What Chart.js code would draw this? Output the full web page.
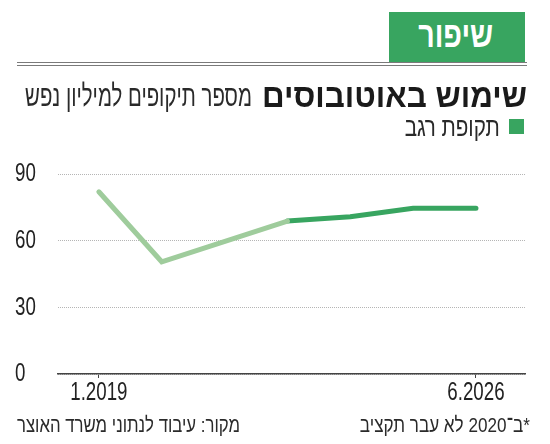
<!DOCTYPE html>
<html lang="he">
<head>
<meta charset="utf-8">
<script src="https://cdn.jsdelivr.net/npm/chart.js@4"></script>
<style>
    html, body { margin: 0; padding: 0; background: #fff; }
    #wrap { position: relative; width: 550px; height: 444px; overflow: hidden;
        font-family: "Liberation Sans", "DejaVu Sans", sans-serif; color: #222; }
    #chart { position: absolute; left: 0; top: 0; }
    .txt { position: absolute; white-space: nowrap; direction: rtl; line-height: 1; }
    #badge { position: absolute; left: 389px; top: 12px; width: 136px; height: 50px; background: #38a560; }
    .rule { position: absolute; left: 17px; width: 510px; height: 1px; background: #7a7a7a; }
    #legendBox { position: absolute; left: 509px; top: 119px; width: 15px; height: 15px; background: #38a560; }
</style>
</head>
<body>
<div id="wrap">
    <canvas id="chart" width="550" height="444"></canvas>
    <div id="badge"></div>
    <div class="txt fit" data-w="75" data-side="right" style="right:57px; top:17px; color:#fff; font-weight:bold; font-size:36px;">שיפור</div>
    <div class="rule" style="top:62px"></div>
    <div class="rule" style="top:65px"></div>
    <div class="txt fit" data-w="265" data-side="right" style="right:23px; top:79px; font-size:33px; font-weight:bold; color:#1a1a1a;">שימוש באוטובוסים</div>
    <div class="txt fit" data-w="227" data-side="right" style="right:298px; top:81px; font-size:30px; color:#2a2a2a;">מספר תיקופים למיליון נפש</div>
    <div id="legendBox"></div>
    <div class="txt fit" data-w="95" data-side="right" style="right:50px; top:114px; font-size:26px; color:#2a2a2a;">תקופת רגב</div>
    <div class="txt fit" data-w="223" data-side="left" style="left:17px; top:414px; font-size:21px; color:#2a2a2a;">מקור: עיבוד לנתוני משרד האוצר</div>
    <div class="txt fit" data-w="170" data-side="right" style="right:20px; top:414px; font-size:21px; color:#2a2a2a;">*ב־2020 לא עבר תקציב</div>
</div>
<script>
// yearly points, 2020 has no reading (no budget passed)
const periods = ["1.2019", "2020", "2021", "2022", "2023", "2024", "6.2026"];
const beforeValues = [82, 50.5, null, 68.8, null, null, null];
const regevValues = [null, null, null, 68.8, 70.8, 74.6, 74.6];
const yTicks = [0, 30, 60, 90];
const xTickIndexes = [0, 6];

const LIGHT = "#9fcc9c";
const DARK = "#38a560";
const TICK_FONT = "26px 'Liberation Sans', sans-serif";

// squeeze the html labels to the narrow width of the original face
document.querySelectorAll(".fit").forEach((el) => {
    const w = el.getBoundingClientRect().width;
    el.style.transformOrigin = el.dataset.side === "left" ? "left center" : "right center";
    el.style.transform = `scaleX(${Number(el.dataset.w) / w})`;
});

function toPoints(values) {
    return values.map((v, i) => ({ x: i, y: v }));
}

// tick labels drawn condensed, placed by the scales
const narrowTicks = {
    id: "narrowTicks",
    afterDraw(chart) {
        const { ctx, scales } = chart;
        ctx.save();
        ctx.font = TICK_FONT;
        ctx.fillStyle = "#222";
        ctx.textBaseline = "middle";
        scales.y.ticks.forEach((t) => {
            ctx.save();
            ctx.translate(15, scales.y.getPixelForValue(t.value));
            ctx.scale(0.72, 1);
            ctx.textAlign = "left";
            ctx.fillText(String(t.value), 0, 0);
            ctx.restore();
        });
        scales.x.ticks.forEach((t) => {
            ctx.save();
            ctx.translate(scales.x.getPixelForValue(t.value), 393);
            ctx.scale(0.72, 1);
            ctx.textAlign = "center";
            ctx.fillText(periods[t.value], 0, 0);
            ctx.restore();
        });
        ctx.restore();
    },
};

new Chart(document.getElementById("chart"), {
    type: "line",
    data: {
        datasets: [
            {
                data: toPoints(beforeValues),
                borderColor: LIGHT,
                borderWidth: 5,
                pointRadius: 0,
                spanGaps: true,
                borderCapStyle: "round",
                tension: 0,
            },
            {
                data: toPoints(regevValues),
                borderColor: DARK,
                borderWidth: 5,
                pointRadius: 0,
                borderCapStyle: "round",
                tension: 0,
            },
        ],
    },
    plugins: [narrowTicks],
    options: {
        responsive: false,
        animation: false,
        events: [],
        clip: false,
        layout: { padding: { left: 15, right: 25, top: 174, bottom: 40 } },
        plugins: { legend: { display: false }, tooltip: { enabled: false } },
        scales: {
            x: {
                type: "linear",
                min: -0.65,
                max: 6.78,
                afterBuildTicks: (scale) => {
                    scale.ticks = xTickIndexes.map((v) => ({ value: v }));
                },
                afterFit: (scale) => {
                    scale.height = 30;
                },
                ticks: { display: false },
                grid: {
                    drawOnChartArea: false,
                    drawTicks: true,
                    tickLength: 4,
                    tickColor: "#444",
                    tickWidth: 1,
                },
                border: { display: true, color: "#444", width: 1.5 },
            },
            y: {
                min: 0,
                max: 90,
                afterBuildTicks: (scale) => {
                    scale.ticks = yTicks.map((v) => ({ value: v }));
                },
                afterFit: (scale) => {
                    scale.width = 43;
                },
                ticks: { display: false },
                grid: {
                    drawTicks: false,
                    color: "#b5b5b5",
                    lineWidth: 1,
                },
                border: { display: false, dash: [1, 1] },
            },
        },
    },
});
</script>
</body>
</html>
